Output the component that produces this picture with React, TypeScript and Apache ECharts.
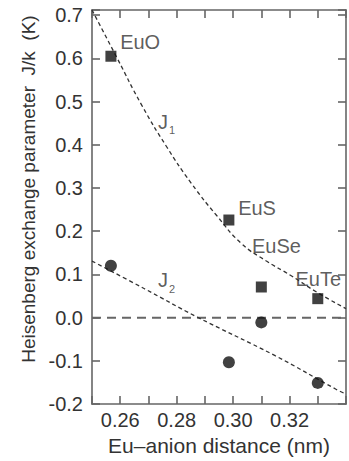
import React, { useEffect, useRef } from "react";
import * as echarts from "echarts";

// Compounds and measured points
const compounds = ["EuO", "EuS", "EuSe", "EuTe"];
const distances = [0.2567, 0.2985, 0.31, 0.33];
const j1Values = [0.605, 0.226, 0.071, 0.044];
const j2Values = [0.12, -0.103, -0.011, -0.151];

// Dashed guide curves
const j1CurveX = [0.25, 0.2588, 0.2676, 0.2765, 0.2853, 0.2941, 0.3029, 0.3118, 0.3206, 0.3294, 0.34];
const j1CurveY = [0.712, 0.602, 0.492, 0.395, 0.31, 0.237, 0.172, 0.131, 0.097, 0.06, 0.021];
const j2CurveX = [0.25, 0.2686, 0.2868, 0.3149, 0.3363, 0.34];
const j2CurveY = [0.131, 0.067, 0.003, -0.088, -0.165, -0.177];

// Axis settings
const xMin = 0.25;
const xMax = 0.34;
const xStep = 0.01;
const xLabelTicks = ["0.26", "0.28", "0.30", "0.32"];
const yMin = -0.2;
const yMax = 0.712;
const yStep = 0.1;
const yLabelTicks = ["-0.2", "-0.1", "0.0", "0.1", "0.2", "0.3", "0.4", "0.5", "0.6", "0.7"];

// Annotations (text, anchor in data units)
const noteTexts = ["EuO", "EuS", "EuSe", "EuTe", "J1", "J2"];
const noteX = [0.2598, 0.3016, 0.3065, 0.3219, 0.2732, 0.2732];
const noteY = [0.639, 0.253, 0.166, 0.09, 0.449, 0.082];

const FONT = "'Liberation Sans', Arial, Helvetica, sans-serif";
const TEXT = "#333";
const FRAME = "#666";

export default function App() {
  const ref = useRef<HTMLDivElement>(null);

  useEffect(() => {
    const chart = echarts.init(ref.current!, null, { renderer: "svg" });

    const frameAxis = {
      type: "value",
      min: xMin,
      max: xMax,
      interval: xStep,
      axisLine: { show: true, onZero: false, lineStyle: { color: FRAME, width: 1.6 } },
      axisTick: { show: true, inside: true, length: 8, lineStyle: { color: FRAME, width: 1.6 } },
      splitLine: { show: false },
    };
    const frameYAxis = {
      type: "value",
      min: yMin,
      max: yMax,
      interval: yStep,
      axisLine: { show: true, onZero: false, lineStyle: { color: FRAME, width: 1.6 } },
      axisTick: { show: true, inside: true, length: 8, lineStyle: { color: FRAME, width: 1.6 } },
      splitLine: { show: false },
    };

    const option: any = {
      animation: false,
      backgroundColor: "#fff",
      textStyle: { fontFamily: FONT },
      grid: { left: 92, right: 2, top: 10, bottom: 54, containLabel: false },
      xAxis: [
        {
          ...frameAxis,
          position: "bottom",
          name: "Eu\u2013anion distance (nm)",
          nameLocation: "middle",
          nameGap: 28,
          nameTextStyle: { fontSize: 21, color: TEXT, fontFamily: FONT },
          axisLabel: {
            show: true,
            margin: 6,
            fontSize: 20,
            color: TEXT,
            fontFamily: FONT,
            formatter: (v: number) => {
              const s = v.toFixed(2);
              return xLabelTicks.indexOf(s) >= 0 ? s : "";
            },
          },
        },
        { ...frameAxis, position: "top", axisLabel: { show: false } },
      ],
      yAxis: [
        {
          ...frameYAxis,
          position: "left",
          name: "Heisenberg exchange parameter  J/k  (K)",
          nameLocation: "middle",
          nameGap: 50,
          nameTextStyle: { fontSize: 19, color: TEXT, fontFamily: FONT, padding: [0, 0, 0, 36] },
          axisLabel: {
            show: true,
            margin: 9,
            fontSize: 20,
            color: TEXT,
            fontFamily: FONT,
            formatter: (v: number) => {
              const s = (Math.abs(v) < 1e-9 ? 0 : v).toFixed(1);
              return Math.abs(v * 10 - Math.round(v * 10)) < 1e-6 && yLabelTicks.indexOf(s) >= 0 ? s : "";
            },
          },
        },
        { ...frameYAxis, position: "right", axisLabel: { show: false } },
      ],
      series: [
        {
          type: "line",
          name: "zero",
          data: [
            [xMin, 0],
            [xMax, 0],
          ],
          symbol: "none",
          lineStyle: { color: "#666", width: 2, type: [9, 6] },
          silent: true,
        },
        {
          type: "line",
          name: "J1 fit",
          data: j1CurveX.map((x, i) => [x, j1CurveY[i]]),
          smooth: 0.5,
          symbol: "none",
          lineStyle: { color: "#333", width: 1.3, type: [4, 3] },
          silent: true,
        },
        {
          type: "line",
          name: "J2 fit",
          data: j2CurveX.map((x, i) => [x, j2CurveY[i]]),
          smooth: 0.4,
          symbol: "none",
          lineStyle: { color: "#333", width: 1.3, type: [4, 3] },
          silent: true,
        },
        {
          type: "scatter",
          name: "J1",
          data: distances.map((x, i) => ({ name: compounds[i], value: [x, j1Values[i]] })),
          symbol: "rect",
          symbolSize: 11,
          itemStyle: { color: "#111" },
          z: 5,
        },
        {
          type: "scatter",
          name: "J2",
          data: distances.map((x, i) => ({ name: compounds[i], value: [x, j2Values[i]] })),
          symbol: "circle",
          symbolSize: 12,
          itemStyle: { color: "#111" },
          z: 5,
        },
        {
          type: "scatter",
          name: "notes",
          data: noteX.map((x, i) => ({ name: noteTexts[i], value: [x, noteY[i]] })),
          symbolSize: 1,
          itemStyle: { color: "rgba(0,0,0,0)" },
          silent: true,
          z: 6,
          label: {
            show: true,
            position: "right",
            distance: 0,
            color: TEXT,
            fontSize: 20,
            fontFamily: FONT,
            formatter: (p: any) => {
              const n: string = p.name;
              if (n === "J1" || n === "J2") return "{j|J}{s|" + n.slice(1) + "}{z| }";
              return n;
            },
            rich: {
              j: { fontSize: 20, color: TEXT, fontFamily: FONT, lineHeight: 20, verticalAlign: "top" },
              s: { fontSize: 11, color: TEXT, fontFamily: FONT, lineHeight: 11, verticalAlign: "bottom", padding: [0, 0, 0, 1] },
              z: { fontSize: 2, lineHeight: 24 },
            },
          },
        },
      ],
    };

    chart.setOption(option);
    return () => chart.dispose();
  }, []);

  return <div ref={ref} style={{ position: "fixed", left: 0, top: 0, width: 349, height: 461 }} />;
}
